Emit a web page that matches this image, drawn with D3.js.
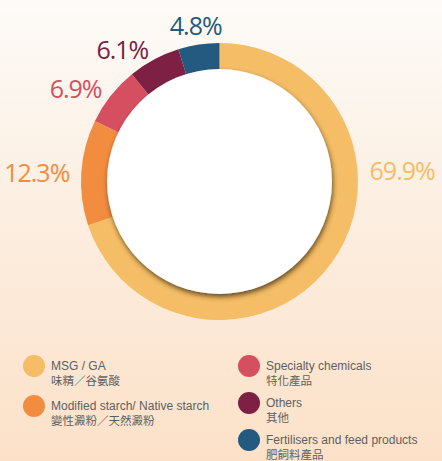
<!DOCTYPE html>
<html>
<head>
<meta charset="utf-8">
<script src="https://cdn.jsdelivr.net/npm/d3@7"></script>
<style>
  html, body { margin: 0; padding: 0; }
  body { width: 442px; height: 461px; overflow: hidden; }
</style>
</head>
<body>
<div id="chart"></div>
<script>
const categories = ["MSG / GA", "Modified starch/ Native starch", "Specialty chemicals", "Others", "Fertilisers and feed products"];
const categoriesZh = ["味精／谷氨酸", "變性澱粉／天然澱粉", "特化產品", "其他", "肥飼料產品"];
const shares = [69.9, 12.3, 6.9, 6.1, 4.8];
const colors = ["#f4bd66", "#f28c3f", "#d64f60", "#7e2043", "#245a80"];

(() => {
    const width = 442, height = 461;
    const cx = 219.5, cy = 181.5, outerR = 138.5, innerR = 112.5;

    const data = categories.map((c, i) => ({ name: c, zh: categoriesZh[i], value: shares[i], color: colors[i] }));

    const svg = d3.select("#chart")
        .append("svg")
        .attr("width", width)
        .attr("height", height);

    const defs = svg.append("defs");
    const bg = defs.append("linearGradient")
        .attr("id", "bg")
        .attr("x1", 0).attr("y1", 0).attr("x2", 0).attr("y2", 1);
    bg.append("stop").attr("offset", "0%").attr("stop-color", "#fdfbf8");
    bg.append("stop").attr("offset", "35%").attr("stop-color", "#fcf1e6");
    bg.append("stop").attr("offset", "100%").attr("stop-color", "#fce1c8");

    const shadow = defs.append("filter")
        .attr("id", "shadow")
        .attr("x", "-20%").attr("y", "-20%").attr("width", "140%").attr("height", "140%");
    shadow.append("feDropShadow")
        .attr("dx", 1).attr("dy", 3)
        .attr("stdDeviation", 2.5)
        .attr("flood-color", "#3b2a10")
        .attr("flood-opacity", 0.75);

    svg.append("rect")
        .attr("width", width)
        .attr("height", height)
        .attr("fill", "url(#bg)");

    const pie = d3.pie()
        .sort(null)
        .value(d => d.value);

    const arc = d3.arc()
        .innerRadius(innerR - 4)
        .outerRadius(outerR);

    const chart = svg.append("g")
        .attr("transform", `translate(${cx},${cy})`);

    const arcs = pie(data);

    chart.selectAll(".slice")
        .data(arcs)
        .enter()
        .append("path")
        .attr("class", "slice")
        .attr("d", arc)
        .attr("fill", d => d.data.color);

    chart.append("circle")
        .attr("r", innerR)
        .attr("fill", "#ffffff")
        .attr("filter", "url(#shadow)");

    // percentage labels just outside the ring
    chart.selectAll(".label")
        .data(arcs)
        .enter()
        .append("text")
        .attr("class", "label")
        .each(function(d, i) {
            let a = (d.startAngle + d.endAngle) / 2;
            if (i === 0) a = Math.PI / 2 - 0.075; // big slice label sits on the right
            const s = Math.sin(a);
            const anchor = Math.abs(s) < 0.3 ? "middle" : (s < 0 ? "end" : "start");
            const r = outerR + 12 + (anchor === "middle" ? 8 : 0);
            d3.select(this)
                .attr("x", r * s)
                .attr("y", -r * Math.cos(a))
                .attr("text-anchor", anchor);
        })
        .attr("dominant-baseline", "central")
        .style("font-family", "'Open Sans', sans-serif")
        .style("font-size", "25px")
        .style("letter-spacing", "-1px")
        .style("fill", d => d.data.color)
        .text(d => `${d.data.value.toFixed(1)}%`);

    // legend in two columns
    const legendPos = [[34, 366], [34, 406], [249, 366], [249, 403], [249, 440]];

    const legend = svg.selectAll(".legend")
        .data(data)
        .enter()
        .append("g")
        .attr("class", "legend")
        .attr("transform", (d, i) => `translate(${legendPos[i][0]},${legendPos[i][1]})`);

    legend.append("circle")
        .attr("r", 11)
        .attr("fill", d => d.color);

    legend.append("text")
        .attr("x", 17)
        .attr("y", 4)
        .style("font-family", "'Liberation Sans', Arial, sans-serif")
        .style("font-size", "12px")
        .style("fill", "#5e5f61")
        .text(d => d.name);

    legend.append("text")
        .attr("x", 17)
        .attr("y", 19)
        .style("font-family", "'Noto Sans CJK TC', sans-serif")
        .style("font-size", "11.5px")
        .style("fill", "#5e5f61")
        .text(d => d.zh);
})();
</script>
</body>
</html>
